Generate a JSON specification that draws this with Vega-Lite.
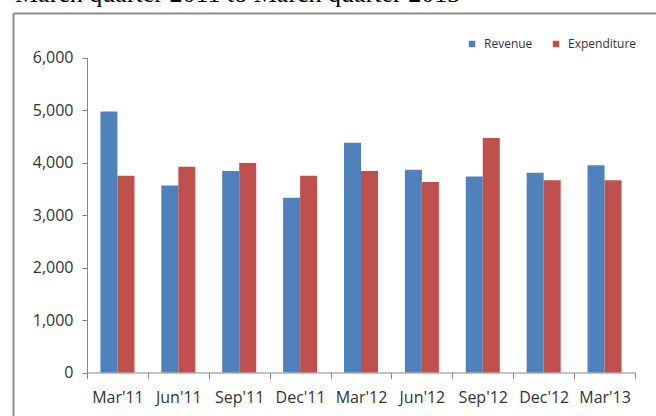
{
  "$schema": "https://vega.github.io/schema/vega-lite/v6.json",
  "autosize": {"type": "none"},
  "padding": {"left": 13, "top": 13, "right": 0, "bottom": 0},
  "width": 643,
  "height": 403,
  "title": {
    "text": "March quarter 2011 to March quarter 2013",
    "font": "Liberation Serif",
    "fontSize": 26,
    "fontWeight": "normal",
    "color": "#000000",
    "anchor": "start",
    "baseline": "alphabetic",
    "offset": 0,
    "dx": 2,
    "dy": 15
  },
  "config": {
    "view": {"stroke": null},
    "font": "Open Sans"
  },
  "data": {
    "values": [
      {"quarter": "Mar'11", "series": "Revenue", "value": 4970},
      {"quarter": "Mar'11", "series": "Expenditure", "value": 3750},
      {"quarter": "Jun'11", "series": "Revenue", "value": 3560},
      {"quarter": "Jun'11", "series": "Expenditure", "value": 3920},
      {"quarter": "Sep'11", "series": "Revenue", "value": 3840},
      {"quarter": "Sep'11", "series": "Expenditure", "value": 3990},
      {"quarter": "Dec'11", "series": "Revenue", "value": 3330},
      {"quarter": "Dec'11", "series": "Expenditure", "value": 3750},
      {"quarter": "Mar'12", "series": "Revenue", "value": 4375},
      {"quarter": "Mar'12", "series": "Expenditure", "value": 3840},
      {"quarter": "Jun'12", "series": "Revenue", "value": 3860},
      {"quarter": "Jun'12", "series": "Expenditure", "value": 3630},
      {"quarter": "Sep'12", "series": "Revenue", "value": 3735},
      {"quarter": "Sep'12", "series": "Expenditure", "value": 4465},
      {"quarter": "Dec'12", "series": "Revenue", "value": 3805},
      {"quarter": "Dec'12", "series": "Expenditure", "value": 3660},
      {"quarter": "Mar'13", "series": "Revenue", "value": 3950},
      {"quarter": "Mar'13", "series": "Expenditure", "value": 3660}
    ]
  },
  "layer": [
    {
      "mark": {"type": "bar"},
      "encoding": {
        "x": {
          "field": "quarter",
          "type": "nominal",
          "sort": ["Mar'11", "Jun'11", "Sep'11", "Dec'11", "Mar'12", "Jun'12", "Sep'12", "Dec'12", "Mar'13"],
          "scale": {"range": [74, 622], "paddingInner": 0, "paddingOuter": 0},
          "axis": {
            "title": null,
            "orient": "bottom",
            "offset": -43.5,
            "labelAngle": 0,
            "tickBand": "extent",
            "tickSize": 6,
            "tickColor": "#868686",
            "domainColor": "#868686",
            "labelFont": "Open Sans",
            "labelFontSize": 16,
            "labelColor": "#333333",
            "labelPadding": 11
          }
        },
        "xOffset": {
          "field": "series",
          "type": "nominal",
          "sort": ["Revenue", "Expenditure"],
          "scale": {"paddingInner": 0, "paddingOuter": 0.79}
        },
        "y": {
          "field": "value",
          "type": "quantitative",
          "scale": {"domain": [0, 6000], "nice": false, "range": [359.5, 44.5]},
          "axis": {
            "title": null,
            "orient": "left",
            "offset": -74,
            "values": [0, 1000, 2000, 3000, 4000, 5000, 6000],
            "format": ",.0f",
            "grid": false,
            "tickSize": 5,
            "tickColor": "#868686",
            "domainColor": "#868686",
            "labelFont": "Open Sans",
            "labelFontSize": 16,
            "labelColor": "#333333",
            "labelPadding": 9
          }
        },
        "color": {
          "field": "series",
          "type": "nominal",
          "sort": ["Revenue", "Expenditure"],
          "scale": {"domain": ["Revenue", "Expenditure"], "range": ["#4F81BD", "#C0504D"]},
          "legend": {
            "title": null,
            "orient": "none",
            "direction": "horizontal",
            "legendX": 453,
            "legendY": 25,
            "padding": 0,
            "symbolType": "square",
            "symbolSize": 42,
            "symbolStrokeWidth": 0,
            "labelFont": "Open Sans",
            "labelFontSize": 12,
            "labelColor": "#333333",
            "labelOffset": 6,
            "columnPadding": 17
          }
        }
      }
    },
    {
      "mark": {"type": "point", "opacity": 0},
      "encoding": {
        "x": {
          "field": "quarter",
          "type": "nominal",
          "scale": {"range": [0, 800]},
          "axis": {
            "title": null,
            "orient": "top",
            "labels": false,
            "ticks": false,
            "grid": false,
            "domainColor": "#8c8c8c",
            "domainWidth": 2
          }
        },
        "y": {
          "field": "value",
          "type": "quantitative",
          "scale": {"range": [0, 800]},
          "axis": {
            "title": null,
            "orient": "left",
            "labels": false,
            "ticks": false,
            "grid": false,
            "domainColor": "#8c8c8c",
            "domainWidth": 2
          }
        }
      }
    }
  ],
  "resolve": {
    "scale": {"x": "independent", "y": "independent"},
    "axis": {"x": "independent", "y": "independent"}
  }
}
